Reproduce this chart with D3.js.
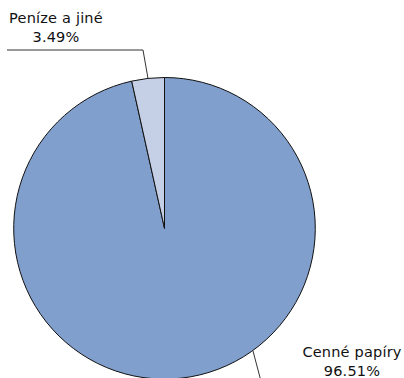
<!DOCTYPE html>
<html><head><meta charset="utf-8">
<script src="https://cdn.jsdelivr.net/npm/d3@7/dist/d3.min.js"></script>
<style>body{margin:0;background:#fff}svg{display:block}</style>
</head><body>
<svg id="c" width="404" height="378"></svg>
<script>
const categories = ["Cenné papíry", "Peníze a jiné"];
const values = [96.51, 3.49];
const valueLabels = ["96.51%", "3.49%"];
const colors = ["#819FCD", "#C5D0E7"];

const svg = d3.select("#c");
const cx = 164.5, cy = 228.3, r = 150.8;
const g = svg.append("g").attr("transform", `translate(${cx},${cy})`);
const pie = d3.pie().sort(null).value(d => d)(values);
const arc = d3.arc().innerRadius(0).outerRadius(r);
g.selectAll("path.slice").data(pie).enter().append("path")
  .attr("class", "slice")
  .attr("d", arc).attr("fill", (d, i) => colors[i])
  .attr("stroke", "#111").attr("stroke-width", 1);

// leader lines
const mid = pie[1].startAngle / 2 + pie[1].endAngle / 2;
const p0 = [r * Math.sin(mid), -r * Math.cos(mid)];
const lines = [
  [[253 - cx, 351 - cy], [262 - cx, 385 - cy]],
  [p0, [143 - cx, 50 - cy], [7 - cx, 50 - cy]]
];
g.selectAll("path.lead").data(lines).enter().append("path")
  .attr("class", "lead").attr("fill", "none").attr("stroke", "#333").attr("stroke-width", 1)
  .attr("d", d => d3.line()(d));

const labelPos = [[352, 357], [56, 23]];
const lg = svg.selectAll("text.lbl").data(categories).enter().append("text")
  .attr("class", "lbl").attr("text-anchor", "middle")
  .attr("font-family", "DejaVu Sans, Verdana, sans-serif").attr("font-size", 14.5)
  .attr("letter-spacing", 0.2).attr("fill", "#111")
  .attr("x", (d, i) => labelPos[i][0]).attr("y", (d, i) => labelPos[i][1]);
lg.append("tspan").text(d => d);
lg.append("tspan").attr("x", (d, i) => labelPos[i][0]).attr("dy", 18.5).text((d, i) => valueLabels[i]);
</script>
</body></html>
